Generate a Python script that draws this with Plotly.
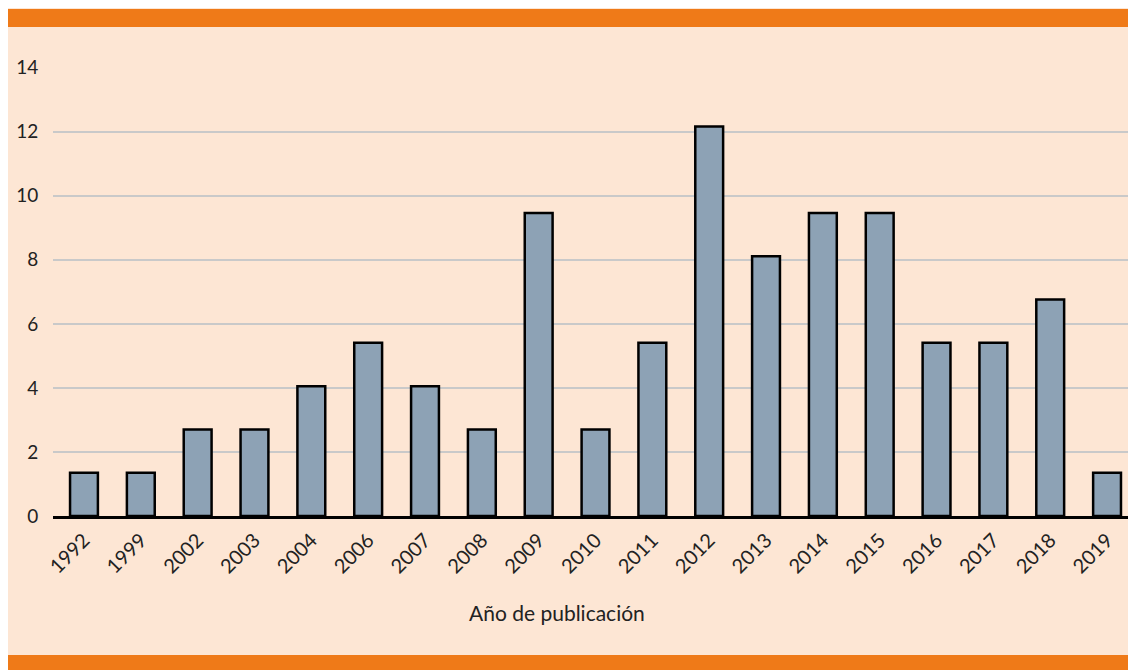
import plotly.graph_objects as go

years = ["1992", "1999", "2002", "2003", "2004", "2006", "2007", "2008", "2009", "2010",
         "2011", "2012", "2013", "2014", "2015", "2016", "2017", "2018", "2019"]
percent = [1.35, 1.35, 2.70, 2.70, 4.05, 5.41, 4.05, 2.70, 9.46, 2.70,
           5.41, 12.16, 8.11, 9.46, 9.46, 5.41, 5.41, 6.76, 1.35]
y_ticks = [0, 2, 4, 6, 8, 10, 12, 14]
x_title = "Año de publicación"

# figure is placed at (8, 8) in the page by the default body margin
W, H = 1136, 670
L, R, T, B = 45, 0, 59, 162
ph = H - T - B
pw = W - L - R

def py(pix):
    return (H - B - pix) / ph

def px(pix):
    return (pix - L) / pw

FONT = "Lato"

fig = go.Figure()
fig.add_trace(go.Bar(
    x=list(range(len(years))), y=percent,
    width=0.49,
    marker=dict(color="#8da2b5", line=dict(color="black", width=2.5)),
))

shapes = [
    dict(type="rect", xref="paper", yref="paper", x0=px(0), x1=px(W), y0=py(1), y1=py(19),
         fillcolor="#ef7a18", line_width=0, layer="below"),
    dict(type="rect", xref="paper", yref="paper", x0=px(0), x1=px(W), y0=py(647), y1=py(H),
         fillcolor="#ef7a18", line_width=0, layer="below"),
]

fig.update_layout(
    width=W, height=H,
    margin=dict(l=L, r=R, t=T, b=B, pad=0),
    paper_bgcolor="#fde6d4",
    plot_bgcolor="rgba(0,0,0,0)",
    showlegend=False,
    shapes=shapes,
    font=dict(family=FONT, size=18, color="#222"),
    xaxis=dict(
        tickmode="array", tickvals=list(range(len(years))), ticktext=years,
        range=[-0.545, 18.65], tickangle=-45, showgrid=False,
        showline=True, linecolor="black", linewidth=2.5,
        ticks="outside", ticklen=2, tickcolor="rgba(0,0,0,0)",
        tickfont=dict(family=FONT, size=20, color="#222"),
        fixedrange=True,
    ),
    yaxis=dict(
        range=[0, 14.02], tickmode="array", tickvals=y_ticks,
        showgrid=True, gridcolor="#c9c9c9", gridwidth=1.5,
        zeroline=False, showline=False,
        ticks="outside", ticklen=10, tickcolor="rgba(0,0,0,0)",
        tickfont=dict(family=FONT, size=19, color="#222"),
    ),
    annotations=[dict(text=x_title, xref="paper", yref="paper", x=px(549), y=py(604),
                      showarrow=False, xanchor="center", yanchor="middle",
                      font=dict(family=FONT, size=21, color="#222"))],
)

fig.write_html("out.html")
